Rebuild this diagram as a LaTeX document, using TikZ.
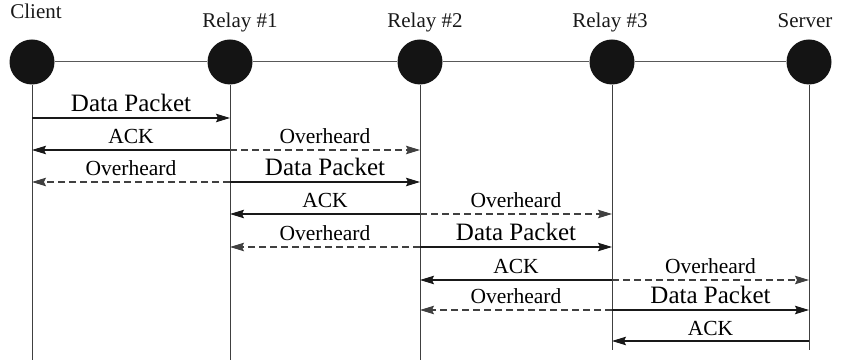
\documentclass[tikz,border=0pt]{standalone}
\usepackage{fontspec}
\setmainfont{Liberation Serif}
\usetikzlibrary{arrows.meta}
\begin{document}
\begin{tikzpicture}[x=1pt,y=-1pt,
  station/.style={circle,fill=black!92,minimum size=45pt,inner sep=0pt},
  title/.style={anchor=base,font=\fontsize{21}{21}\selectfont,text=black!90},
  lifeline/.style={draw=black!75,line width=1pt},
  link/.style={draw=black!65,line width=1pt},
  msg/.style={-{Stealth[length=14pt,width=8.5pt,inset=2pt]},line width=1.1pt,draw=black!90},
  heard/.style={msg,dash pattern=on 7pt off 4pt,draw=black!75},
  lbl/.style={anchor=base,yshift=6pt,font=\fontsize{21.5}{21.5}\selectfont,text=black},
  biglbl/.style={anchor=base,yshift=6pt,font=\fontsize{25}{25}\selectfont,text=black},
]
\useasboundingbox (0,0) rectangle (843,363);

% stations
\node[station] (c0) at (32,62) {};
\node[station] (c1) at (230,62) {};
\node[station] (c2) at (420,62) {};
\node[station] (c3) at (612,62) {};
\node[station] (c4) at (809,62) {};

% station names
\node[title] (t0) at (36,19) {Client};
\node[title] (t1) at (240,28) {Relay \#1};
\node[title] (t2) at (425,28) {Relay \#2};
\node[title] (t3) at (610,28) {Relay \#3};
\node[title] (t4) at (805,28) {Server};

% chain link between the stations
\draw[link] (c0) -- (c1);
\draw[link] (c1) -- (c2);
\draw[link] (c2) -- (c3);
\draw[link] (c3) -- (c4);

% lifelines
\coordinate (b0) at (32,360);
\coordinate (b1) at (230,360);
\coordinate (b2) at (420,360);
\coordinate (b3) at (612,350);
\coordinate (b4) at (809,350);
\draw[lifeline] (c0) -- (b0);
\draw[lifeline] (c1) -- (b1);
\draw[lifeline] (c2) -- (b2);
\draw[lifeline] (c3) -- (b3);
\draw[lifeline] (c4) -- (b4);

% hop 1: client -> relay 1
\draw[msg] (c0 |- 0,118) -- node[biglbl] {Data Packet} (c1 |- 0,118);
\draw[msg] (c1 |- 0,150) -- node[lbl] {ACK} (c0 |- 0,150);
\draw[heard] (c1 |- 0,150) -- node[lbl] {Overheard} (c2 |- 0,150);

% hop 2: relay 1 -> relay 2
\draw[heard] (c1 |- 0,182) -- node[lbl] {Overheard} (c0 |- 0,182);
\draw[msg] (c1 |- 0,182) -- node[biglbl] {Data Packet} (c2 |- 0,182);
\draw[msg] (c2 |- 0,214) -- node[lbl] {ACK} (c1 |- 0,214);
\draw[heard] (c2 |- 0,214) -- node[lbl] {Overheard} (c3 |- 0,214);

% hop 3: relay 2 -> relay 3
\draw[heard] (c2 |- 0,247) -- node[lbl] {Overheard} (c1 |- 0,247);
\draw[msg] (c2 |- 0,247) -- node[biglbl] {Data Packet} (c3 |- 0,247);
\draw[msg] (c3 |- 0,280) -- node[lbl] {ACK} (c2 |- 0,280);
\draw[heard] (c3 |- 0,280) -- node[lbl] {Overheard} (c4 |- 0,280);

% hop 4: relay 3 -> server
\draw[heard] (c3 |- 0,310) -- node[lbl] {Overheard} (c2 |- 0,310);
\draw[msg] (c3 |- 0,310) -- node[biglbl] {Data Packet} (c4 |- 0,310);
\draw[msg] (c4 |- 0,341) -- node[lbl] {ACK} (c3 |- 0,341);
\end{tikzpicture}
\end{document}
